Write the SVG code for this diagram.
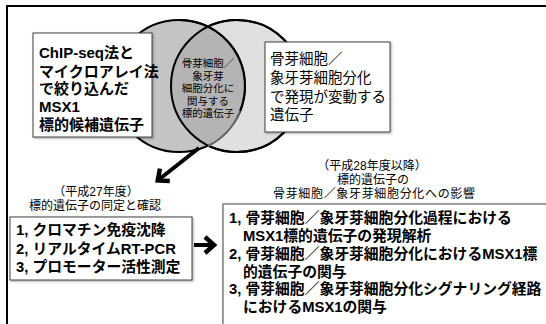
<svg xmlns="http://www.w3.org/2000/svg" width="546" height="324" viewBox="0 0 546 324">
<style>
  text { font-family: "Liberation Sans", "Noto Sans CJK JP", sans-serif; fill: #000; }
  .box { fill: #fff; stroke: #444; stroke-width: 1; filter: url(#shadow); }
  .big { font-size: 15px; font-weight: bold; }
  .reg { font-size: 14.5px; }
  .lens { font-size: 10.5px; text-anchor: middle; }
  .lbl { font-size: 12px; text-anchor: middle; }
  .list { font-size: 14.8px; font-weight: bold; }
  .conn { stroke: #000; stroke-width: 4; fill: none; marker-end: url(#head); }
</style>
<defs>
  <filter id="shadow" x="-10%" y="-10%" width="130%" height="130%">
    <feDropShadow dx="1" dy="1" stdDeviation="1" flood-color="#000" flood-opacity="0.35"/>
  </filter>
  <marker id="head" viewBox="-14 -11 17 22" refX="0" refY="0" markerWidth="17" markerHeight="22" markerUnits="userSpaceOnUse" orient="auto">
    <path d="M-10,-8 L-1,0 L-10,8" fill="none" stroke="#000" stroke-width="4.5" stroke-linejoin="miter"/>
  </marker>
  <clipPath id="leftClip"><circle cx="179" cy="86" r="66"/></clipPath>
</defs>

<rect id="frame" x="7" y="6" width="560" height="340" fill="#fff" stroke="#000" stroke-width="2"/>

<g id="venn">
  <circle cx="237" cy="86" r="66" fill="#e0e0e0" stroke="#000" stroke-width="2"/>
  <circle cx="179" cy="86" r="66" fill="#c4c4c4" stroke="#000" stroke-width="2"/>
  <circle cx="237" cy="86" r="66" fill="#b4b4b4" clip-path="url(#leftClip)"/>
  <circle cx="237" cy="86" r="66" fill="none" stroke="#000" stroke-width="2"/>
  <path d="M179,20 A66,66 0 0 1 240,111" fill="none" stroke="#000" stroke-width="2"/>
  <path d="M240,111 A66,66 0 0 1 208,146" fill="none" stroke="#666" stroke-width="2"/>
</g>

<g id="node-lens">
  <text class="lens" x="208" y="67">骨芽細胞／</text>
  <text class="lens" x="208" y="79.5">象牙芽</text>
  <text class="lens" x="208" y="92">細胞分化に</text>
  <text class="lens" x="208" y="104.5">関与する</text>
  <text class="lens" x="208" y="117">標的遺伝子</text>
</g>

<g id="node-candidates">
  <rect class="box" x="33" y="33" width="119" height="104"/>
  <text class="big" x="39" y="58">ChIP-seq法と</text>
  <text class="big" x="39" y="76.5">マイクロアレイ法</text>
  <text class="big" x="39" y="94">で絞り込んだ</text>
  <text class="big" x="39" y="112">MSX1</text>
  <text class="big" x="39" y="130">標的候補遺伝子</text>
</g>

<g id="node-expression">
  <rect class="box" x="265" y="42" width="125" height="90"/>
  <text class="reg" x="270" y="64">骨芽細胞／</text>
  <text class="reg" x="270" y="83">象牙芽細胞分化</text>
  <text class="reg" x="270" y="101.5">で発現が変動する</text>
  <text class="reg" x="270" y="120">遺伝子</text>
</g>

<g id="node-label27">
  <text class="lbl" x="96" y="196">（平成27年度）</text>
  <text class="lbl" x="95" y="210">標的遺伝子の同定と確認</text>
</g>

<g id="node-label28">
  <text class="lbl" x="372" y="170">（平成28年度以降）</text>
  <text class="lbl" x="373" y="184">標的遺伝子の</text>
  <text class="lbl" x="374" y="198" textLength="202" lengthAdjust="spacing">骨芽細胞／象牙芽細胞分化への影響</text>
</g>

<g id="node-methods">
  <rect class="box" x="10" y="217" width="182" height="63"/>
  <text class="list" x="16" y="235">1, クロマチン免疫沈降</text>
  <text class="list" x="16" y="253.5">2, リアルタイムRT-PCR</text>
  <text class="list" x="16" y="272">3, プロモーター活性測定</text>
</g>

<g id="node-analysis">
  <rect class="box" x="223" y="204" width="340" height="140"/>
  <text class="list" x="229" y="223">1, 骨芽細胞／象牙芽細胞分化過程における</text>
  <text class="list" x="243" y="241">MSX1標的遺伝子の発現解析</text>
  <text class="list" x="229" y="258.5">2, 骨芽細胞／象牙芽細胞分化におけるMSX1標</text>
  <text class="list" x="243" y="276.5">的遺伝子の関与</text>
  <text class="list" x="229" y="294">3, 骨芽細胞／象牙芽細胞分化シグナリング経路</text>
  <text class="list" x="243" y="312">におけるMSX1の関与</text>
</g>

<g id="connectors">
  <line class="conn" x1="199" y1="148" x2="157" y2="181"/>
  <line class="conn" x1="194" y1="245" x2="215" y2="245"/>
</g>
</svg>
